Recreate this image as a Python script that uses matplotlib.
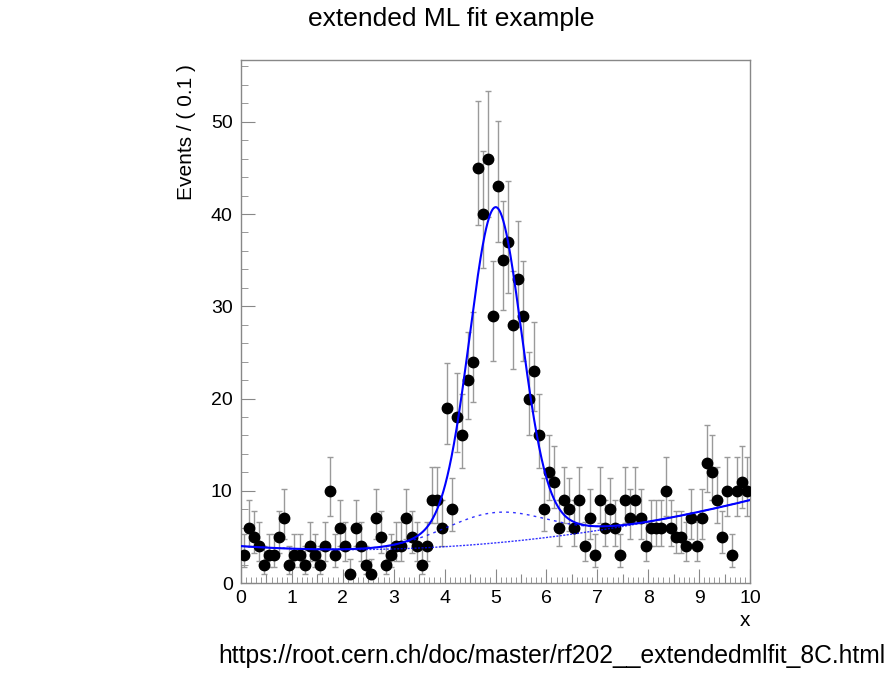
import numpy as np
import matplotlib
matplotlib.use("Agg")
import matplotlib.pyplot as plt
from matplotlib.ticker import MultipleLocator

plt.rcParams['font.family'] = ['Liberation Sans', 'DejaVu Sans']

# histogram bin centres (bin width 0.1) and counts
x_centres = np.arange(100) * 0.1 + 0.05
counts = [3, 6, 5, 4, 2, 3, 3, 5, 7, 2,
          3, 3, 2, 4, 3, 2, 4, 10, 3, 6,
          4, 1, 6, 4, 2, 1, 7, 5, 2, 3,
          4, 4, 7, 5, 4, 2, 4, 9, 9, 6,
          19, 8, 18, 16, 22, 24, 45, 40, 46, 29,
          43, 35, 37, 28, 33, 29, 20, 23, 16, 8,
          12, 11, 6, 9, 8, 6, 9, 4, 7, 3,
          9, 6, 8, 6, 3, 9, 7, 9, 7, 4,
          6, 6, 6, 10, 6, 5, 5, 4, 7, 4,
          7, 13, 12, 9, 5, 10, 3, 10, 11, 10]

# fitted model parameters (estimated from the drawn curves, events per bin)
mean = 5.0
sigma1 = 0.5
sigma2 = 1.0
amp_sig1 = 33.1
amp_sig2 = 3.3
bkg_norm = 5.42
cheb_a0 = 0.461
cheb_a1 = 0.198

#%% model pieces
def bkg(x):
    t = (x - 5.0) / 5.0
    return bkg_norm * (1 + cheb_a0 * t + cheb_a1 * (2 * t**2 - 1))

def sig1(x):
    return amp_sig1 * np.exp(-0.5 * ((x - mean) / sigma1)**2)

def sig2(x):
    return amp_sig2 * np.exp(-0.5 * ((x - mean) / sigma2)**2)

n = np.array(counts, dtype=float)
# poisson-like asymmetric errors as ROOT draws them
err_up = np.sqrt(n + 0.25) + 0.5
err_lo = np.sqrt(n + 0.25) - 0.5

#%% figure
fig = plt.figure(figsize=(8.94, 6.75), dpi=100, facecolor='white')
ax = fig.add_axes([241 / 894, 1 - 583 / 675, (750 - 241) / 894, (583 - 60) / 675])

ax.errorbar(x_centres, n, yerr=[err_lo, err_up], fmt='none', ecolor='#9a9a9a',
            elinewidth=1, capsize=2.5, capthick=1, zorder=2)
ax.plot(x_centres, n, 'o', color='black', markersize=7.5, zorder=3)

xs = np.linspace(0, 10, 1000)
ax.plot(xs, bkg(xs) + sig1(xs) + sig2(xs), color='#0000ff', lw=1.5, zorder=4)
ax.plot(xs, bkg(xs), color='#0000ff', lw=1.0, ls=(0, (1.5, 1)), alpha=0.8, zorder=4)
ax.plot(xs, bkg(xs) + sig2(xs), color='#0000ff', lw=1.0, ls=(0, (2, 3)), alpha=0.8, zorder=4)

ax.set_xlim(0, 10)
ax.set_ylim(0, 56.7)

for s in ax.spines.values():
    s.set_color('#888888')
    s.set_linewidth(1)

ax.xaxis.set_major_locator(MultipleLocator(1))
ax.xaxis.set_minor_locator(MultipleLocator(0.1))
ax.yaxis.set_major_locator(MultipleLocator(10))
ax.yaxis.set_minor_locator(MultipleLocator(2))
ax.tick_params(which='both', direction='in', color='#888888', top=False, right=False)
ax.tick_params(axis='x', which='major', length=10, pad=5, labelsize=14)
ax.tick_params(axis='x', which='minor', length=4.3)
ax.tick_params(axis='y', which='major', length=10, pad=6, labelsize=14)
ax.tick_params(axis='y', which='minor', length=5)

# medium ticks at the half units on x
sec = ax.secondary_xaxis('bottom')
sec.set_xticks(np.arange(0.5, 10, 1))
sec.tick_params(direction='in', length=6.5, color='#888888', labelbottom=False)
sec.spines['bottom'].set_visible(False)

fig.text(0.505, 1 - 19 / 675, "extended ML fit example", ha='center', va='center', fontsize=19)
fig.text(187 / 894, 1 - 64 / 675, "Events / ( 0.1 )", rotation=90, ha='center', va='top', fontsize=15)
fig.text(745 / 894, 1 - 620 / 675, "x", ha='center', va='center', fontsize=15)
fig.text(551.5 / 894, 1 - 656 / 675, "https://root.cern.ch/doc/master/rf202__extendedmlfit_8C.html",
         ha='center', va='center', fontsize=17.7)

fig.savefig("out.png", dpi=100)
